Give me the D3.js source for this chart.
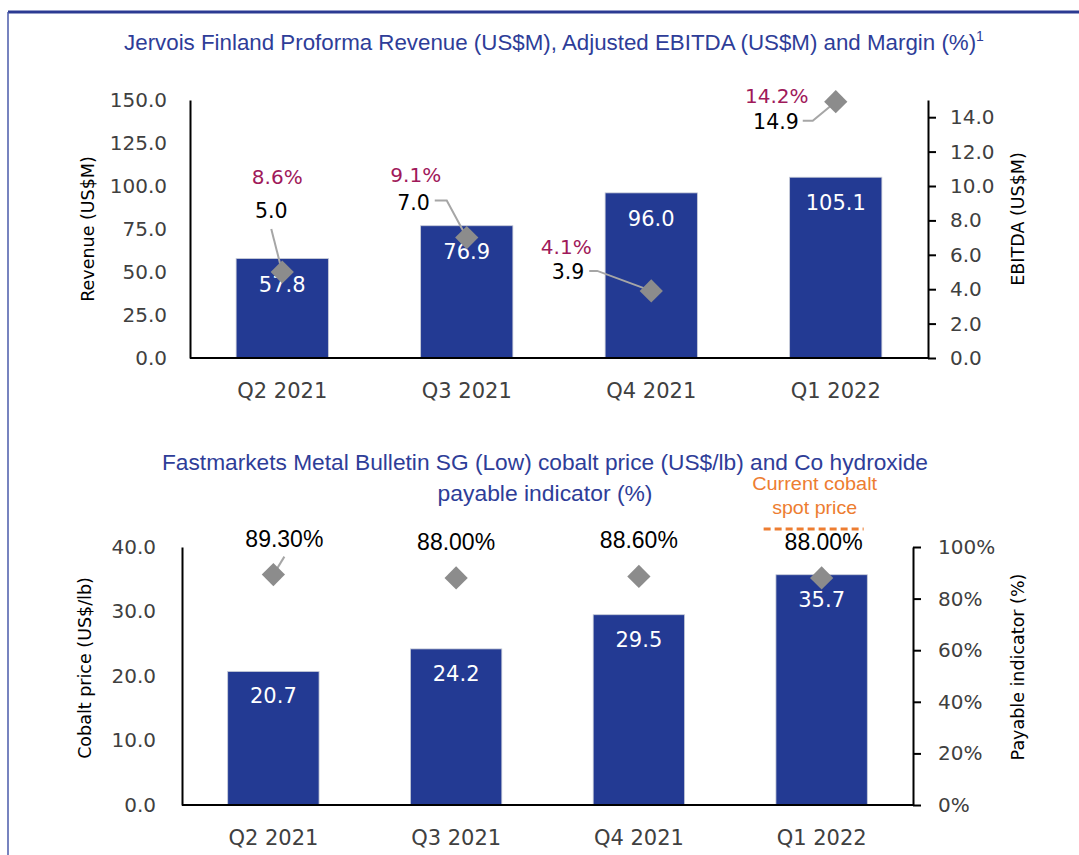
<!DOCTYPE html>
<html>
<head>
<meta charset="utf-8">
<script src="https://cdn.jsdelivr.net/npm/d3@7"></script>
<style>
  html, body { margin: 0; padding: 0; background: #fff; }
  svg { display: block; }
</style>
</head>
<body>
<div id="chart"></div>
<script>
// ---------- DATA ----------
const categories = ["Q2 2021", "Q3 2021", "Q4 2021", "Q1 2022"];
const revenue = [57.8, 76.9, 96.0, 105.1];          // US$M (bars, left axis)
const ebitda = [5.0, 7.0, 3.9, 14.9];               // US$M (markers, right axis)
const margin = [8.6, 9.1, 4.1, 14.2];               // %
const revenueTicks = [0, 25, 50, 75, 100, 125, 150];
const ebitdaTicks = [0, 2, 4, 6, 8, 10, 12, 14];

const cobaltPrice = [20.7, 24.2, 29.5, 35.7];       // US$/lb (bars, left axis)
const payable = [0.893, 0.880, 0.886, 0.880];       // payable indicator (markers, right axis)
const cobaltTicks = [0, 10, 20, 30, 40];
const payableTicks = [0, 0.2, 0.4, 0.6, 0.8, 1.0];
const spotPrice = 42.8;                             // current cobalt spot price (US$/lb)

const title1 = "Jervois Finland Proforma Revenue (US$M), Adjusted EBITDA (US$M) and Margin (%)";
const title2a = "Fastmarkets Metal Bulletin SG (Low) cobalt price (US$/lb) and Co hydroxide";
const title2b = "payable indicator (%)";

// ---------- LAYOUT (label placement relative to markers) ----------
const ebitdaLabelLayout = [
  { anchor: "middle", nx: -11, ny: -61, px: -5,  py: -95, leader: [[-11, -43], [0, 0]] },
  { anchor: "end",    nx: -37, ny: -35, px: -51, py: -63, leader: [[-32, -37], [-20, -37], [0, 0]] },
  { anchor: "end",    nx: -67, ny: -19, px: -85, py: -44, leader: [[-62, -20], [-54, -20], [0, 0]] },
  { anchor: "end",    nx: -37, ny: 20,  px: -59, py: -6,  leader: [[-33, 19], [-23, 19], [0, 0]] }
];
const payableLabelLayout = [
  { dx: 11, dy: -36, leader: [[11, -18], [0, 0]] },
  { dx: 0, dy: -36, leader: null },
  { dx: 0, dy: -36, leader: null },
  { dx: 2, dy: -36, leader: null }
];

// ---------- STYLE ----------
const W = 1079, H = 855;
const barColor = "#233A93";
const markerColor = "#8C8C8C";
const leaderColor = "#A6A6A6";
const titleColor = "#2E3D98";
const marginColor = "#A0195A";
const tickColor = "#404040";
const orange = "#ED7D31";
const numFont = "'DejaVu Sans', sans-serif";
const titleFont = "'Liberation Sans Narrow', 'Liberation Sans', sans-serif";

const svg = d3.select("#chart").append("svg")
  .attr("width", W).attr("height", H);

// frame
svg.append("line").attr("x1", 8).attr("x2", W).attr("y1", 12).attr("y2", 12)
  .attr("stroke", "#2B3A92").attr("stroke-width", 3);
svg.append("line").attr("x1", 8).attr("x2", 8).attr("y1", 12).attr("y2", H)
  .attr("stroke", "#4A5AAA").attr("stroke-width", 1.5);

const diamond = d3.symbol().type(d3.symbolSquare).size(270);

function styleAxis(g, fontSize) {
  g.select(".domain").attr("stroke", "#000").attr("stroke-width", 2);
  g.selectAll(".tick line").attr("stroke", "#000").attr("stroke-width", 2);
  g.selectAll(".tick text").attr("fill", tickColor)
    .style("font-family", numFont).style("font-size", fontSize + "px");
}

function rotatedTitle(x, y, text) {
  svg.append("text")
    .attr("transform", `translate(${x},${y}) rotate(-90)`)
    .attr("text-anchor", "middle").attr("dominant-baseline", "central")
    .style("font-family", numFont).style("font-size", "17.5px").attr("fill", "#000")
    .text(text);
}

// ================= TOP CHART =================
{
  const left = 190, right = 928, top = 100, base = 358;
  const x = d3.scaleBand().domain(categories).range([left, right]).paddingInner(0.5).paddingOuter(0.25);
  const yRev = d3.scaleLinear().domain([0, 150]).range([base, top]);
  const yEb = d3.scaleLinear().domain([0, 15]).range([base, top]);

  // title
  const t = svg.append("text").attr("x", 554).attr("y", 50).attr("text-anchor", "middle")
    .style("font-family", titleFont)
    .style("font-size", "22px").attr("fill", titleColor);
  t.append("tspan").text(title1).attr("textLength", 852).attr("lengthAdjust", "spacingAndGlyphs");
  t.append("tspan").text("1").attr("dy", -9).style("font-size", "14px");

  // bars
  svg.append("g").selectAll("rect").data(revenue).join("rect")
    .attr("x", (d, i) => x(categories[i]))
    .attr("y", d => yRev(d))
    .attr("width", x.bandwidth())
    .attr("height", d => base - yRev(d))
    .attr("fill", barColor).attr("stroke", "#C8CCD8").attr("stroke-width", 0.8);

  // axes
  const gl = svg.append("g").attr("transform", `translate(${left},0)`)
    .call(d3.axisLeft(yRev).tickValues(revenueTicks).tickSize(0).tickPadding(23).tickFormat(d3.format(".1f")));
  styleAxis(gl, 20);
  const gr = svg.append("g").attr("transform", `translate(${right},0)`)
    .call(d3.axisRight(yEb).tickValues(ebitdaTicks).tickSize(8).tickSizeOuter(0).tickPadding(14).tickFormat(d3.format(".1f")));
  styleAxis(gr, 20);
  const gb = svg.append("g").attr("transform", `translate(0,${base})`)
    .call(d3.axisBottom(x).tickSize(0).tickPadding(25));
  styleAxis(gb, 21);
  gb.select(".domain").attr("d", `M${left},0H${right}`);

  // bar value labels
  svg.append("g").selectAll("text").data(revenue).join("text")
    .attr("x", (d, i) => x(categories[i]) + x.bandwidth() / 2)
    .attr("y", d => yRev(d) + 26)
    .attr("text-anchor", "middle").attr("dominant-baseline", "central")
    .style("font-family", numFont).style("font-size", "21px").attr("fill", "#fff")
    .text(d => d.toFixed(1));

  // leader lines
  const cx = i => x(categories[i]) + x.bandwidth() / 2;
  svg.append("g").selectAll("path").data(ebitda).join("path")
    .attr("d", (d, i) => d3.line()(ebitdaLabelLayout[i].leader.map(p => [cx(i) + p[0], yEb(d) + p[1]])))
    .attr("fill", "none").attr("stroke", leaderColor).attr("stroke-width", 2);

  // markers
  svg.append("g").selectAll("path").data(ebitda).join("path")
    .attr("d", diamond)
    .attr("transform", (d, i) => `translate(${cx(i)},${yEb(d)}) rotate(45)`)
    .attr("fill", markerColor);

  // EBITDA labels
  svg.append("g").selectAll("text").data(ebitda).join("text")
    .attr("x", (d, i) => cx(i) + ebitdaLabelLayout[i].nx)
    .attr("y", (d, i) => yEb(d) + ebitdaLabelLayout[i].ny)
    .attr("text-anchor", (d, i) => ebitdaLabelLayout[i].anchor)
    .attr("dominant-baseline", "central")
    .style("font-family", numFont).style("font-size", "20.5px").attr("fill", "#000")
    .text(d => d.toFixed(1));

  // margin labels
  svg.append("g").selectAll("text").data(margin).join("text")
    .attr("x", (d, i) => cx(i) + ebitdaLabelLayout[i].px)
    .attr("y", (d, i) => yEb(ebitda[i]) + ebitdaLabelLayout[i].py)
    .attr("text-anchor", "middle").attr("dominant-baseline", "central")
    .style("font-family", numFont).style("font-size", "20px").attr("fill", marginColor)
    .text(d => d.toFixed(1) + "%");

  rotatedTitle(88, 229, "Revenue (US$M)");
  rotatedTitle(1018, 219, "EBITDA (US$M)");
}

// ================= BOTTOM CHART =================
{
  const left = 182, right = 913, top = 547, base = 805;
  const x = d3.scaleBand().domain(categories).range([left, right]).paddingInner(0.5).paddingOuter(0.25);
  const yCo = d3.scaleLinear().domain([0, 40]).range([base, top]);
  const yPay = d3.scaleLinear().domain([0, 1]).range([base, top]);

  // titles
  svg.append("text").attr("x", 545).attr("y", 470).attr("text-anchor", "middle")
    .style("font-family", titleFont).style("font-size", "22px").attr("fill", titleColor)
    .attr("textLength", 766).attr("lengthAdjust", "spacingAndGlyphs").text(title2a);
  svg.append("text").attr("x", 545).attr("y", 501).attr("text-anchor", "middle")
    .style("font-family", titleFont).style("font-size", "22px").attr("fill", titleColor)
    .attr("textLength", 215).attr("lengthAdjust", "spacingAndGlyphs").text(title2b);

  // bars
  svg.append("g").selectAll("rect").data(cobaltPrice).join("rect")
    .attr("x", (d, i) => x(categories[i]))
    .attr("y", d => yCo(d))
    .attr("width", x.bandwidth())
    .attr("height", d => base - yCo(d))
    .attr("fill", barColor).attr("stroke", "#C8CCD8").attr("stroke-width", 0.8);

  // axes
  const gl = svg.append("g").attr("transform", `translate(${left},0)`)
    .call(d3.axisLeft(yCo).tickValues(cobaltTicks).tickSize(0).tickPadding(26).tickFormat(d3.format(".1f")));
  styleAxis(gl, 20);
  const gr = svg.append("g").attr("transform", `translate(${right},0)`)
    .call(d3.axisRight(yPay).tickValues(payableTicks).tickSize(8).tickSizeOuter(0).tickPadding(17).tickFormat(d3.format(".0%")));
  styleAxis(gr, 20);
  const gb = svg.append("g").attr("transform", `translate(0,${base})`)
    .call(d3.axisBottom(x).tickSize(0).tickPadding(25));
  styleAxis(gb, 21);
  gb.select(".domain").attr("d", `M${left},0H${right}`);

  const cx = i => x(categories[i]) + x.bandwidth() / 2;

  // bar value labels
  svg.append("g").selectAll("text").data(cobaltPrice).join("text")
    .attr("x", (d, i) => cx(i))
    .attr("y", d => yCo(d) + 25)
    .attr("text-anchor", "middle").attr("dominant-baseline", "central")
    .style("font-family", numFont).style("font-size", "21px").attr("fill", "#fff")
    .text(d => d.toFixed(1));

  // leader lines
  svg.append("g").selectAll("path").data(payable.map((d, i) => ({ d, i })).filter(o => payableLabelLayout[o.i].leader))
    .join("path")
    .attr("d", o => d3.line()(payableLabelLayout[o.i].leader.map(p => [cx(o.i) + p[0], yPay(o.d) + p[1]])))
    .attr("fill", "none").attr("stroke", leaderColor).attr("stroke-width", 2);

  // markers
  svg.append("g").selectAll("path").data(payable).join("path")
    .attr("d", diamond)
    .attr("transform", (d, i) => `translate(${cx(i)},${yPay(d)}) rotate(45)`)
    .attr("fill", markerColor);

  // payable labels
  svg.append("g").selectAll("text").data(payable).join("text")
    .attr("x", (d, i) => cx(i) + payableLabelLayout[i].dx)
    .attr("y", (d, i) => yPay(d) + payableLabelLayout[i].dy)
    .attr("text-anchor", "middle").attr("dominant-baseline", "central")
    .style("font-family", "'Liberation Sans', sans-serif").style("font-size", "23px").attr("fill", "#000")
    .text(d => d3.format(".2%")(d));

  // current spot price marker
  const spotX = cx(3) - 8;
  svg.append("line")
    .attr("x1", spotX - 50).attr("x2", spotX + 50)
    .attr("y1", yCo(spotPrice)).attr("y2", yCo(spotPrice))
    .attr("stroke", orange).attr("stroke-width", 3).attr("stroke-dasharray", "7,4");
  svg.append("text").attr("x", spotX + 1).attr("y", yCo(spotPrice) - 45)
    .attr("text-anchor", "middle").attr("dominant-baseline", "central")
    .style("font-family", titleFont).style("font-size", "18px").attr("fill", orange)
    .attr("textLength", 125).attr("lengthAdjust", "spacingAndGlyphs").text("Current cobalt");
  svg.append("text").attr("x", spotX + 1).attr("y", yCo(spotPrice) - 21)
    .attr("text-anchor", "middle").attr("dominant-baseline", "central")
    .style("font-family", titleFont).style("font-size", "19px").attr("fill", orange)
    .attr("textLength", 85).attr("lengthAdjust", "spacingAndGlyphs").text("spot price");

  rotatedTitle(85, 668, "Cobalt price (US$/lb)");
  rotatedTitle(1018, 667, "Payable indicator (%)");
}
</script>
</body>
</html>
